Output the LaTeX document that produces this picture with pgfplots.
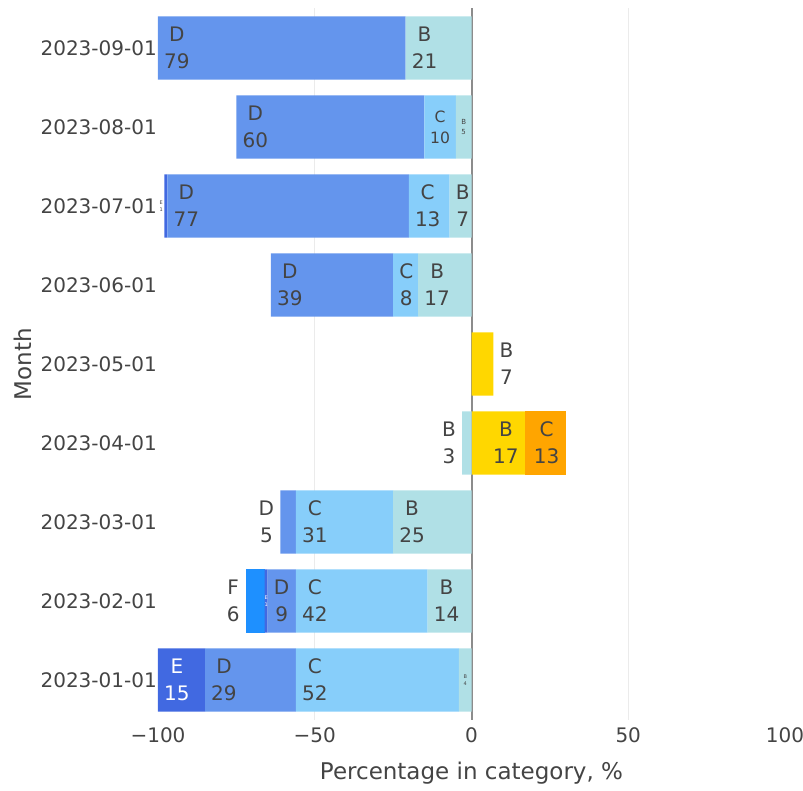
\documentclass[border=0pt]{standalone}
\usepackage{fontspec}
\setmainfont{DejaVu Sans}
\usepackage{pgfplots}
\usepackage{pgfplotstable}
\pgfplotsset{compat=1.18}
\definecolor{txt}{HTML}{444444}
\definecolor{cB}{HTML}{B0E0E6}
\definecolor{cC}{HTML}{87CEFA}
\definecolor{cD}{HTML}{6495ED}
\definecolor{cE}{HTML}{4169E1}
\definecolor{cF}{HTML}{1E90FF}
\definecolor{pB}{HTML}{FFD700}
\definecolor{pC}{HTML}{FFA500}
\definecolor{gridc}{HTML}{EBEBEB}
\definecolor{zeroc}{HTML}{8C8C8C}

% bar values (row = month index 0..8, Jan..Sep); negative side stacked outward from 0
\pgfplotstableread{
y  B   C   D   E   F  PB  PC
0  -4  -52 -29 -15 0  0   0
1  -14 -42 -9  -1  -6 0   0
2  -25 -31 -5  0   0  0   0
3  -3  0   0   0   0  17  13
4  0   0   0   0   0  7   0
5  -17 -8  -39 0   0  0   0
6  -7  -13 -77 -1  0  0   0
7  -5  -10 -60 0   0  0   0
8  -21 0   -79 0   0  0   0
}\bars

\def\splitlab#1/#2\relax{#1\\#2}
\pgfplotsset{
  lbl/.style={only marks, mark=none, point meta=explicit symbolic,
    nodes near coords={\expandafter\splitlab\pgfplotspointmeta\relax},
    every node near coord/.append style={align=center,
      font=\fontsize{20}{27}\selectfont, inner xsep=6pt, inner ysep=0pt, text=txt, #1}},
  geom/.style={at={(0,0)}, anchor=south west,
    scale only axis, width=627pt, height=711pt,
    xmin=-100, xmax=100, ymin=-0.5, ymax=8.5},
}

\begin{document}
\begin{tikzpicture}
\path[use as bounding box] (-158pt,-70.5pt) rectangle (645pt,719.5pt);
\begin{axis}[
  geom,
  xbar stacked, bar width=0.8,
  axis line style={draw=none},
  major tick length=0pt,
  ytick={0,...,8},
  yticklabels={2023-01-01,2023-02-01,2023-03-01,2023-04-01,2023-05-01,2023-06-01,2023-07-01,2023-08-01,2023-09-01},
  xtick={-100,-50,0,50,100},
  xticklabels={−100,−50,0,50,100},
  extra x ticks={-50,50},
  extra x tick labels={},
  extra x tick style={grid=major, grid style={color=gridc, line width=1pt}},
  ticklabel style={font=\fontsize{20}{24}\selectfont, text=txt},
  yticklabel style={inner xsep=0pt, xshift=-1pt},
  xticklabel style={inner ysep=0pt, yshift=-8pt},
  xlabel={Percentage in category, \%},
  ylabel={Month},
  label style={font=\fontsize{23}{27}\selectfont, text=txt},
  xlabel style={yshift=-16pt},
  ylabel style={yshift=5pt},
]
\addplot[fill=cB, draw=none] table[x=B, y=y]{\bars};
\addplot[fill=cC, draw=none] table[x=C, y=y]{\bars};
\addplot[fill=cD, draw=none] table[x=D, y=y]{\bars};
\addplot[fill=cE, draw=none] table[x=E, y=y]{\bars};
\addplot[fill=cF, draw=none] table[x=F, y=y]{\bars};
\addplot[fill=pB, draw=none] table[x=PB, y=y]{\bars};
\addplot[fill=pC, draw=none] table[x=PC, y=y]{\bars};
\draw[zeroc, line width=2pt] (axis cs:0,-0.5) -- (axis cs:0,8.5);
\end{axis}
\begin{axis}[geom, hide axis, clip=false]
% labels inside the bars, at their outer end
\addplot[lbl={anchor=west}] table[x=x, y=y, meta=lab]{
x y lab
-56 0 C/52
-85 0 D/29
-14 1 B/14
-56 1 C/42
-65 1 D/9
-25 2 B/25
-56 2 C/31
-17 5 B/17
-25 5 C/8
-64 5 D/39
-7 6 B/7
-20 6 C/13
-97 6 D/77
-75 7 D/60
-21 8 B/21
-100 8 D/79
7 4 B/7
};
\addplot[lbl={anchor=west, text=white}] table[x=x, y=y, meta=lab]{
x y lab
-100 0 E/15
};
\addplot[lbl={anchor=east}] table[x=x, y=y, meta=lab]{
x y lab
-61 2 D/5
-3 3 B/3
-72 1 F/6
17 3 B/17
30 3 C/13
};
% labels shrunk to fit narrow segments
\addplot[lbl={anchor=center, scale=0.25}] table[x=x, y=y, meta=lab]{
x y lab
-2 0 B/4
};
\addplot[lbl={anchor=center, scale=0.35}] table[x=x, y=y, meta=lab]{
x y lab
-2.5 7 B/5
};
\addplot[lbl={anchor=center, scale=0.78}] table[x=x, y=y, meta=lab]{
x y lab
-10 7 C/10
};
\addplot[lbl={anchor=center, scale=0.25, text=white}] table[x=x, y=y, meta=lab]{
x y lab
-65.5 1 E/1
};
\addplot[lbl={anchor=east, scale=0.25}] table[x=x, y=y, meta=lab]{
x y lab
-98 6 E/1
};
\end{axis}
\end{tikzpicture}
\end{document}
